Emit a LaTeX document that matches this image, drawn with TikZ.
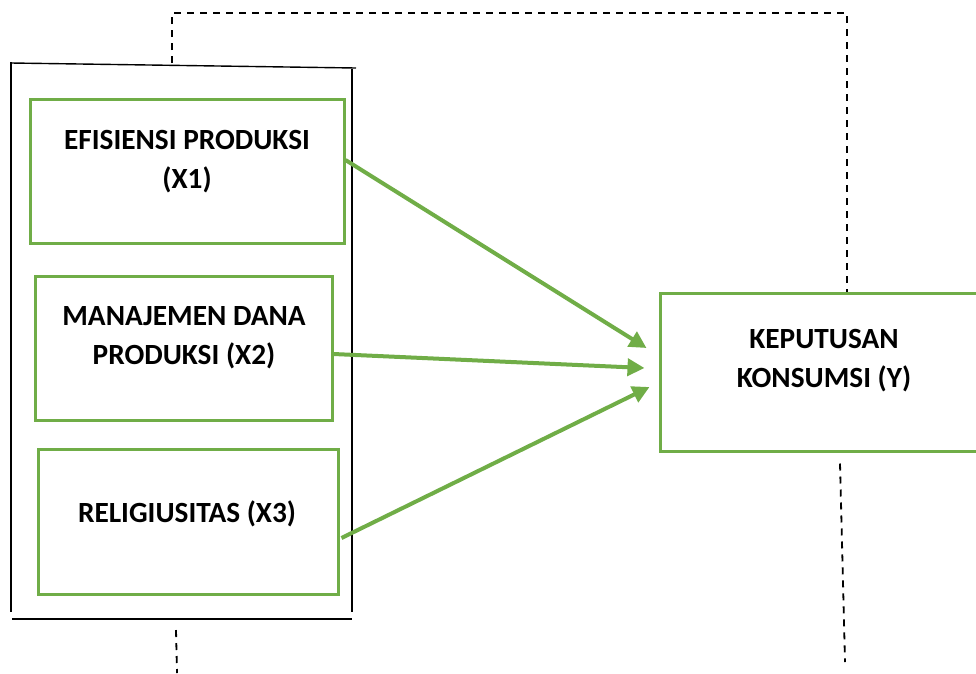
\documentclass[tikz,border=0pt]{standalone}
\usepackage{fontspec}
\setmainfont{Carlito}
\usepackage{tikz}
\usetikzlibrary{arrows.meta, calc, positioning}
\definecolor{officegreen}{RGB}{112,173,71}

\begin{document}
\begin{tikzpicture}[x=1pt, y=-1pt, arro/.style = {-{Triangle[length=17pt,width=17pt]}, officegreen, line width=4pt}]

\tikzstyle{varbox} = [draw=officegreen, line width=3pt, rectangle]
\tikzstyle{vartext} = [align=center, font=\fontsize{29.3}{39}\selectfont\bfseries]
\tikzstyle{frame} = [draw=black, line width=1.4pt]
\tikzstyle{dashline} = [draw=black, line width=1.8pt, dash pattern=on 7pt off 6pt]

\clip (0,0) rectangle (976,673);

% group frame
\draw[frame] (11,62) -- (11,612);
\draw[frame] (11,63) -- (356,68);
\draw[frame] (352,69) -- (352,612);
\draw[frame] (12,619) -- (352,619);
\coordinate (ftop) at (172,63);
\coordinate (fbot) at (176,630);
% independent variables
\node[varbox, minimum width=314pt, minimum height=144pt] at (187,171) (x1) {};
\node[vartext] at (187,162) (x1txt) {EFISIENSI PRODUKSI\\(X1)};
\node[varbox, minimum width=297pt, minimum height=144pt] at (183.5,348) (x2) {};
\node[vartext] at (184,338) (x2txt) {MANAJEMEN DANA\\PRODUKSI (X2)};
\node[varbox, minimum width=300pt, minimum height=145pt] at (188,521.5) (x3) {};
\node[vartext] at (187,514) (x3txt) {RELIGIUSITAS (X3)};
% dependent variable
\node[varbox, minimum width=328pt, minimum height=158pt] at (824,372) (y) {};
\node[vartext] at (824,361) (ytxt) {KEPUTUSAN\\KONSUMSI (Y)};
% connections
\draw[arro] ([yshift=11pt]x1.east) -- ([xshift=-12pt,yshift=24pt]y.west);
\draw[arro] ([yshift=-6pt]x2.east) -- ([xshift=-14pt,yshift=4pt]y.west);
\draw[arro] ([xshift=2pt,yshift=-16.5pt]x3.east) -- ([xshift=-9pt,yshift=-15pt]y.west);
% dashed lines
\draw[dashline] (ftop) -- ++(0,-50) -| ([xshift=23pt]y.north);
\draw[dashline] (fbot) -- (177,673);
\draw[dashline] ([xshift=16pt,yshift=-11pt]y.south) -- (845,662);
\end{tikzpicture}
\end{document}
